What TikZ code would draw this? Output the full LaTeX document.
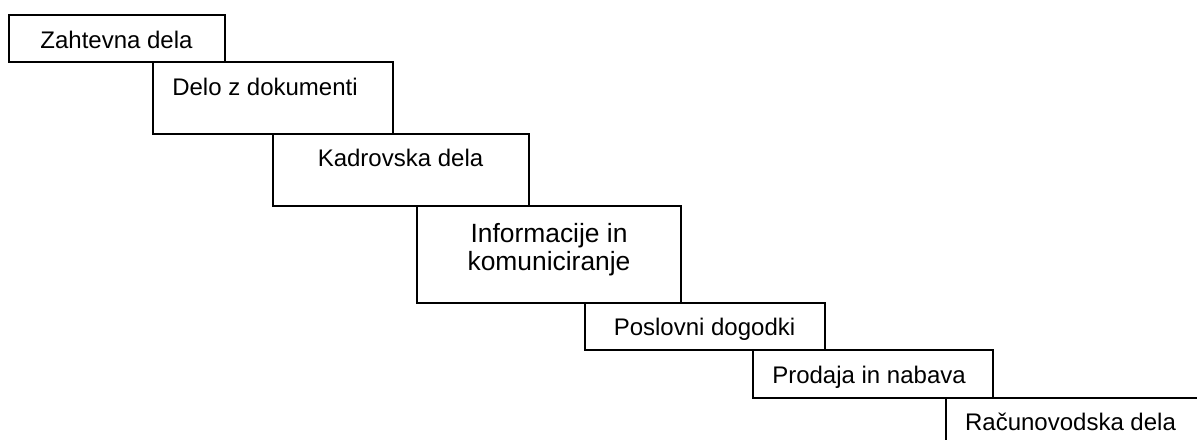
\documentclass[tikz,border=0pt]{standalone}
\usepackage{fontspec}
\setmainfont{Liberation Sans}
\usetikzlibrary{fit}
\tikzset{
  box/.style={draw=black, line width=1pt, inner sep=0pt, fill=none},
  lbl/.style={inner sep=0pt, anchor=base, font=\fontsize{12}{14}\selectfont},
  biglbl/.style={inner sep=0pt, anchor=base, align=center, font=\fontsize{13.2}{14.2}\selectfont},
}
\begin{document}
\begin{tikzpicture}[x=0.5pt, y=-0.5pt]
\useasboundingbox (0,0) rectangle (1197,439);
\fill[white] (0,0) rectangle (1197,439);
\clip (0,0) rectangle (1197,439);
% boxes
\node[box, fit={(9,14.5) (225,62)}] (b1) {};
\node[box, fit={(153,62) (393,134)}] (b2) {};
\node[box, fit={(273,134) (529,206)}] (b3) {};
\node[box, fit={(417,206) (681,302.5)}] (b4) {};
\node[box, fit={(585,302.5) (825.3,350.3)}] (b5) {};
\node[box, fit={(752.7,350.3) (993.3,398.3)}] (b6) {};
\node[box, fit={(946,398.3) (1215,460)}] (b7) {};
% texts
\node[lbl] (t1) at (116.5,48.3) {Zahtevna dela};
\node[lbl] (t2) at (265,95) {Delo z dokumenti};
\node[lbl] (t3) at (400.5,166.7) {Kadrovska dela};
\node[biglbl] (t4) at (549,270.7) {Informacije in\\komuniciranje};
\node[lbl] (t5) at (704.5,335) {Poslovni dogodki};
\node[lbl] (t6) at (869,383.3) {Prodaja in nabava};
\node[lbl] (t7) at (1070.5,430.7) {Računovodska dela};
\end{tikzpicture}
\end{document}
